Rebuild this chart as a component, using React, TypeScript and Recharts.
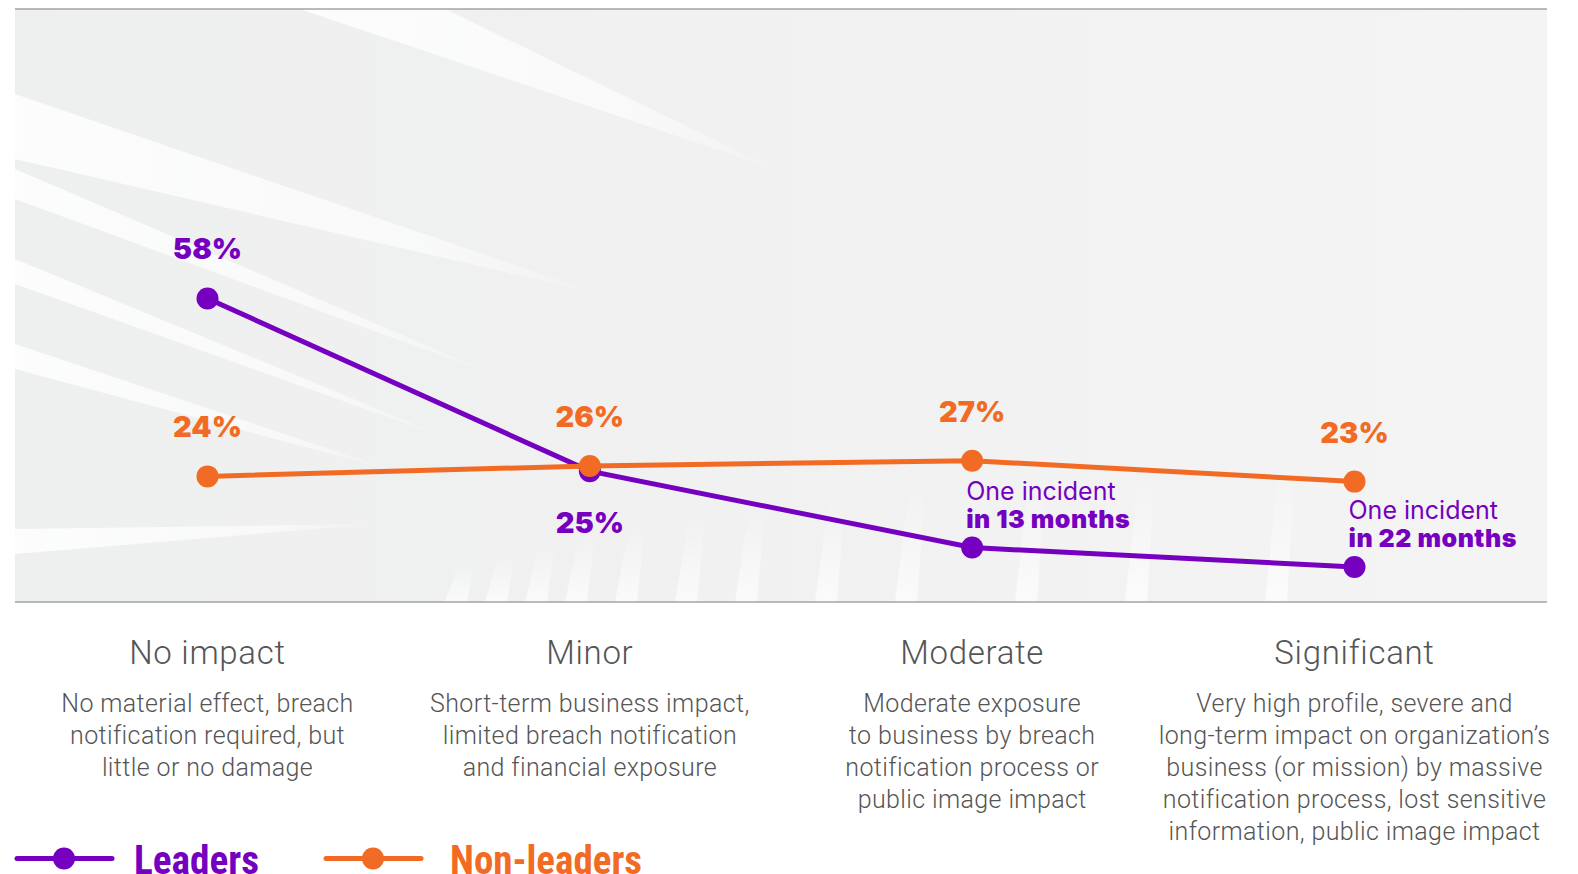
import React from 'react';
import { LineChart, Line, XAxis, YAxis, ReferenceLine, LabelList } from 'recharts';

// ---------- data ----------
const categories = ['No impact', 'Minor', 'Moderate', 'Significant'];
const descriptions = [
  ['No material effect, breach', 'notification required, but', 'little or no damage'],
  ['Short-term business impact,', 'limited breach notification', 'and financial exposure'],
  ['Moderate exposure', 'to business by breach', 'notification process or', 'public image impact'],
  [
    'Very high profile, severe and',
    'long-term impact on organization\u2019s',
    'business (or mission) by massive',
    'notification process, lost sensitive',
    'information, public image impact',
  ],
];
const leaders = [58, 25, 10.4, 6.7];
const nonLeaders = [24, 26, 27, 23];
const leaderLabels = ['58%', '25%', '', ''];
const leaderLabelPos = ['above', 'below', 'note', 'note'];
const leaderNoteLine1 = ['', '', 'One incident', 'One incident'];
const leaderNoteLine2 = ['', '', 'in 13 months', 'in 22 months'];
const nonLeaderLabels = ['24%', '26%', '27%', '23%'];
const seriesNames = ['Leaders', 'Non-leaders'];

// ---------- style ----------
const W = 1578;
const H = 874;
const PLOT = { left: 15, top: 9, right: 1547, bottom: 602 };
const Y_MAX = 113.3;
const PURPLE = '#7500C0';
const ORANGE = '#F26B24';
const GRAY_TEXT = '#555555';
const RULE = '#a3a3a3';
const VALUE_FONT = "Inter, 'Noto Sans', sans-serif";
const BODY_FONT = "Roboto, 'Noto Sans', sans-serif";
const LEGEND_FONT = "'Liberation Sans Narrow', 'Roboto Condensed', Roboto, sans-serif";

const data = categories.map((c, i) => ({ name: c, leaders: leaders[i], nonLeaders: nonLeaders[i] }));

const renderLeaderLabel = (props: any) => {
  const { x, y, index } = props;
  const pos = leaderLabelPos[index];
  if (pos === 'note') {
    return (
      <g>
        <text x={x - 6} y={y - 48} fill={PURPLE} fontFamily={VALUE_FONT} fontSize={25} fontWeight={400} textAnchor="start">
          {leaderNoteLine1[index]}
        </text>
        <text x={x - 6} y={y - 20} fill={PURPLE} fontFamily={VALUE_FONT} fontSize={25} fontWeight={900} letterSpacing={0.5} textAnchor="start">
          {leaderNoteLine2[index]}
        </text>
      </g>
    );
  }
  const dy = pos === 'below' ? 62 : -39;
  return (
    <text x={x} y={y + dy} fill={PURPLE} fontFamily={VALUE_FONT} fontSize={29} fontWeight={900} textAnchor="middle">
      {leaderLabels[index]}
    </text>
  );
};

const renderNonLeaderLabel = (props: any) => {
  const { x, y, index } = props;
  return (
    <text x={x} y={y - 39} fill={ORANGE} fontFamily={VALUE_FONT} fontSize={29} fontWeight={900} textAnchor="middle">
      {nonLeaderLabels[index]}
    </text>
  );
};

const CategoryTick = (props: any) => {
  const { x, y, payload, index } = props;
  const i = typeof index === 'number' ? index : categories.indexOf(payload.value);
  const lines = descriptions[i] || [];
  return (
    <g>
      <text x={x} y={y + 62} textAnchor="middle" fill={GRAY_TEXT} fontFamily={BODY_FONT} fontWeight={300} fontSize={33} letterSpacing={0.7}>
        {payload.value}
      </text>
      {lines.map((ln, k) => (
        <text key={k} x={x} y={y + 109.5 + k * 32.2} textAnchor="middle" fill={GRAY_TEXT} fontFamily={BODY_FONT} fontWeight={300} fontSize={25} letterSpacing={0.38}>
          {ln}
        </text>
      ))}
    </g>
  );
};

const Background = () => {
  const w = PLOT.right - PLOT.left;
  const h = PLOT.bottom - PLOT.top;
  const streaks = [
    '285,0 430,0 760,160',
    '0,85 0,150 585,285',
    '0,160 0,190 490,370',
    '0,250 0,275 440,432',
    '0,335 0,360 380,462',
    '0,520 0,545 360,515',
  ];
  return (
    <svg width={w} height={h} style={{ position: 'absolute', left: PLOT.left, top: PLOT.top }}>
      <defs>
        <linearGradient id="bgGrad" x1="0" y1="0" x2="1" y2="0">
          <stop offset="0" stopColor="#eeefef" />
          <stop offset="0.5" stopColor="#f1f1f1" />
          <stop offset="1" stopColor="#f4f4f4" />
        </linearGradient>
        <linearGradient id="streak" x1="0" y1="0" x2="1" y2="0">
          <stop offset="0" stopColor="#ffffff" stopOpacity="0.85" />
          <stop offset="0.7" stopColor="#ffffff" stopOpacity="0.6" />
          <stop offset="1" stopColor="#ffffff" stopOpacity="0.05" />
        </linearGradient>
        <linearGradient id="vstripe" x1="0" y1="0" x2="0" y2="1">
          <stop offset="0" stopColor="#ffffff" stopOpacity="0" />
          <stop offset="1" stopColor="#ffffff" stopOpacity="0.7" />
        </linearGradient>
      </defs>
      <rect x={0} y={0} width={w} height={h} fill="url(#bgGrad)" />
      {streaks.map((p, k) => (
        <polygon key={k} points={p} fill="url(#streak)" />
      ))}
      {[430, 470, 510, 550, 600, 660, 720, 800, 880, 1000, 1110, 1250].map((sx, k) => (
        <polygon key={'v' + k} points={`${sx},${h} ${sx + 14},${h - 40 - k * 9} ${sx + 30},${h - 40 - k * 9} ${sx + 22},${h}`} fill="url(#vstripe)" />
      ))}
    </svg>
  );
};

const LegendBlock = () => {
  const colors = [PURPLE, ORANGE];
  const starts = [15, 324];
  const textStarts = [134, 450];
  const textWidths = [125, 192];
  return (
    <svg width={W} height={H} style={{ position: 'absolute', left: 0, top: 0, pointerEvents: 'none' }}>
      {seriesNames.map((n, k) => (
        <g key={n}>
          <line x1={starts[k] + 2} x2={starts[k] + 97} y1={858.5} y2={858.5} stroke={colors[k]} strokeWidth={5} strokeLinecap="round" />
          <circle cx={starts[k] + 49} cy={858.5} r={11} fill={colors[k]} />
          <text
            x={textStarts[k]}
            y={874}
            fill={colors[k]}
            fontFamily={LEGEND_FONT}
            fontWeight={700}
            fontSize={40}
            textLength={textWidths[k]}
            lengthAdjust="spacingAndGlyphs"
          >
            {n}
          </text>
        </g>
      ))}
    </svg>
  );
};

export default function App() {
  return (
    <div style={{ position: 'absolute', left: 0, top: 0, width: W, height: H, overflow: 'hidden', background: '#ffffff' }}>
      <Background />
      <div style={{ position: 'absolute', left: 0, top: 0 }}>
        <LineChart
          width={W}
          height={H}
          data={data}
          margin={{ top: PLOT.top, right: W - PLOT.right, left: PLOT.left, bottom: 0 }}
        >
          <YAxis hide domain={[0, Y_MAX]} allowDataOverflow />
          <XAxis
            dataKey="name"
            height={H - PLOT.bottom}
            padding={{ left: 192.5, right: 192.5 }}
            axisLine={{ stroke: RULE, strokeWidth: 1.5 }}
            tickLine={false}
            tickSize={0}
            tickMargin={0}
            interval={0}
            tick={<CategoryTick />}
          />
          <ReferenceLine y={Y_MAX} stroke={RULE} strokeWidth={1.5} ifOverflow="visible" />
          <Line
            dataKey="leaders"
            name={seriesNames[0]}
            stroke={PURPLE}
            strokeWidth={5}
            dot={{ r: 11, fill: PURPLE, stroke: PURPLE, strokeWidth: 0 }}
            activeDot={false}
            isAnimationActive={false}
          >
            <LabelList dataKey="leaders" content={renderLeaderLabel} />
          </Line>
          <Line
            dataKey="nonLeaders"
            name={seriesNames[1]}
            stroke={ORANGE}
            strokeWidth={5}
            dot={{ r: 11, fill: ORANGE, stroke: ORANGE, strokeWidth: 0 }}
            activeDot={false}
            isAnimationActive={false}
          >
            <LabelList dataKey="nonLeaders" content={renderNonLeaderLabel} />
          </Line>
        </LineChart>
      </div>
      <LegendBlock />
    </div>
  );
}
